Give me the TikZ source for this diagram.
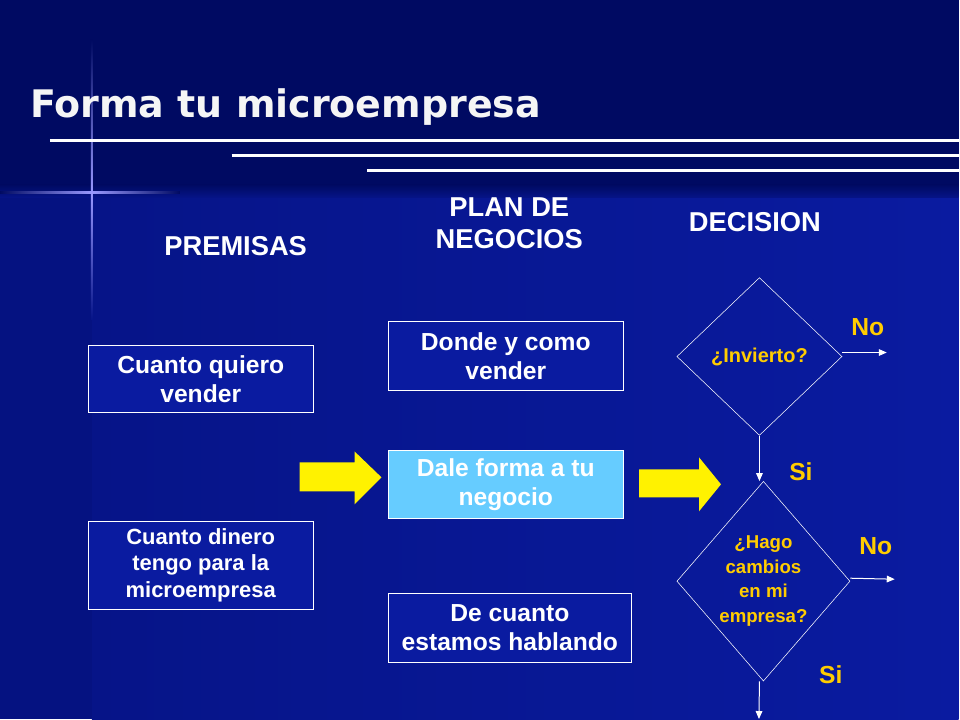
\documentclass[tikz,border=0pt]{standalone}
\usepackage{fontspec}
\setmainfont{Liberation Sans}
\newfontfamily\titlefont{DejaVu Sans}
\usetikzlibrary{shapes.geometric,arrows.meta}
\definecolor{navy}{HTML}{000A62}
\definecolor{slideblue}{HTML}{0A1BA0}
\definecolor{sideblue}{HTML}{061488}
\definecolor{skyfill}{HTML}{66CCFF}
\definecolor{gold}{HTML}{FFCC00}
\tikzset{
	premisebox/.style={draw=white,fill=slideblue,text=white,font=\bfseries\fontsize{18.5}{22}\selectfont,align=center,inner sep=0pt},
	decisionbox/.style={draw=white,diamond,text=gold,font=\bfseries\fontsize{15}{20}\selectfont,align=center,inner sep=0pt},
	flowarrow/.style={draw=white,line width=0.75,-{Triangle[length=6pt,width=5pt]}},
	answer/.style={text=gold,font=\bfseries\fontsize{18.5}{22}\selectfont},
	heading/.style={text=white,font=\bfseries\fontsize{20.5}{24}\selectfont,align=center},
}
\begin{document}
\begin{tikzpicture}[x=0.75pt,y=0.75pt,yscale=-1,xscale=1]
		% background
		\fill [navy] (0,0) rectangle (960,720);
		\shade [left color=sideblue,right color=slideblue] (92,195) rectangle (960,720);
		\fill [sideblue!80!navy] (0,195) rectangle (92,720);
		\shade [top color=navy,bottom color=sideblue] (0,185) rectangle (960,198);
		% sparkle
		\shade [left color=navy,right color=white!60!blue] (0,192) rectangle (92,194);
		\shade [left color=white!60!blue,right color=navy] (92,192) rectangle (180,194);
		\shade [top color=navy,bottom color=white!60!blue] (91,40) rectangle (93,193);
		\shade [top color=white!60!blue,bottom color=sideblue] (91,193) rectangle (93,320);
		% title lines
		\draw [white,line width=2] (50,141) -- (960,141);
		\draw [white,line width=2] (232,156) -- (960,156);
		\draw [white,line width=2] (368,171) -- (960,171);
		\node [anchor=west,text=white!92!gray,inner sep=0pt] (title) at (30,107) {\titlefont\bfseries\fontsize{28.5}{34}\selectfont Forma tu microempresa};
		% headings
		\node [heading] (hpremisas) at (236,246) {PREMISAS};
		\node [heading] (hplan) at (510,224) {PLAN DE\\NEGOCIOS};
		\node [heading] (hdecision) at (756,222) {DECISION};
		% boxes
		\node [premisebox,minimum width=169.5pt,minimum height=50pt] (vender) at (201,379.5) {Cuanto quiero\\vender};
		\node [premisebox,minimum width=169.5pt,minimum height=66pt,font=\bfseries\fontsize{16.5}{20}\selectfont] (dinero) at (201,566) {Cuanto dinero\\tengo para la\\microempresa};
		\node [premisebox,minimum width=176pt,minimum height=52pt] (donde) at (506.5,356.5) {Donde y como\\vender};
		\node [premisebox,fill=skyfill,minimum width=176pt,minimum height=51pt] (dale) at (506.5,485) {Dale forma a tu\\negocio};
		\node [premisebox,minimum width=182pt,minimum height=52pt] (cuanto) at (510.5,628.5) {De cuanto\\estamos hablando};
		% yellow arrows
		\fill [yellow] (300,463) -- (355,463) -- (355,452) -- (382,478) -- (355,505) -- (355,492) -- (300,492) -- cycle;
		\fill [yellow] (640,470) -- (700,470) -- (700,458) -- (722,485) -- (700,512) -- (700,498) -- (640,498) -- cycle;
		% decisions
		\node [decisionbox,minimum width=124pt,minimum height=118.5pt] (invierto) at (760.5,357) {¿Invierto?};
		\node [decisionbox,inner sep=-7pt,minimum width=130pt,minimum height=150pt,font=\bfseries\fontsize{14}{18.5}\selectfont] (cambios) at (764.5,582) {¿Hago\\cambios\\en mi\\empresa?};
		\coordinate (noa) at (888,353);
		\coordinate (nob) at (896,580);
		\coordinate (fin) at (760,720);
		\draw [flowarrow] (invierto.south) -- (invierto.south |- cambios.north);
		\draw [flowarrow] (invierto.east) ++(0,-4) -- (noa);
		\draw [flowarrow] (cambios.east) ++(0,-3) -- (nob);
		\draw [flowarrow] (cambios.south -| invierto.south) -- (fin);
		\node [answer] (sia) at (802,472) {Si};
		\node [answer] (noatext) at (869,328) {No};
		\node [answer] (nobtext) at (877,547) {No};
		\node [answer] (sib) at (832,676) {Si};
		\end{tikzpicture}
\end{document}
